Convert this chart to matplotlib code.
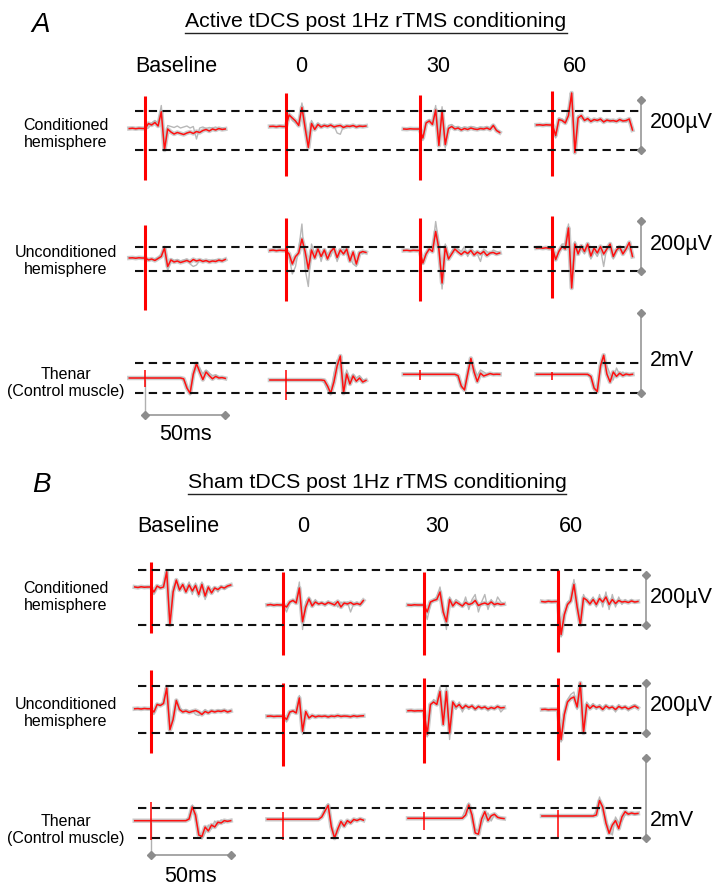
import numpy as np
import matplotlib.pyplot as plt
from matplotlib.lines import Line2D

plt.rcParams['font.family'] = ['Liberation Sans', 'DejaVu Sans']

W, H = 713, 888
PX_PER_MS = 1.6

# sample times of every sweep (ms from the TMS pulse)
t_ms = np.arange(-10, 51, 2)

col_labels = ['Baseline', '0', '30', '60']
row_labels = ['Conditioned\nhemisphere', 'Unconditioned\nhemisphere', 'Thenar\n(Control muscle)']
titles = ['Active tDCS post 1Hz rTMS conditioning', 'Sham tDCS post 1Hz rTMS conditioning']
bar_labels = ['200\u00b5V', '200\u00b5V', '2mV']

# ---- A: active tDCS (values in uV, relative to the middle of the dashed lines) ----
a_cond_red = [
    [8, 9, 7, 9, 8, 8, 28, 22, 32, 18, 75, -78, 6, -6, -14, -8, -12, -16, -10, -6, -12, -4, -8, 0, 4, -2, 6, 2, 8, 4, 6],
    [16, 17, 15, 17, 16, 16, 62, 50, 38, 20, 92, 10, -68, 28, 4, 24, 14, 20, 16, 22, 14, 18, 20, 12, 18, 16, 20, 14, 18, 16, 18],
    [6, 5, 7, 6, 6, 6, -30, 30, 38, 24, 82, -60, 78, -56, 8, 16, 6, 10, 2, 8, 4, 10, 6, 4, 8, 6, 10, 4, 20, 0, -8],
    [22, 23, 21, 23, 22, 22, -20, 44, 40, 30, 60, 150, -88, 50, 60, 40, 48, 36, 44, 40, 46, 34, 42, 38, 40, 36, 44, 38, 40, 46, 2],
]
a_cond_gray = [
    [6, 10, 8, 7, 9, 8, 10, 30, 40, 30, 100, -55, 20, 16, 12, 18, 10, 14, 18, 10, 16, -34, 10, 14, 8, 12, 10, 14, 6, 10, 8],
    [18, 15, 16, 18, 15, 16, 70, 40, 30, 30, 110, 40, -50, 40, 10, 30, 20, 24, 22, 16, 20, -10, -15, 18, 10, 20, 16, 18, 14, 20, 16],
    [8, 6, 5, 7, 5, 6, -40, 36, 44, 30, 100, -40, 95, -70, 20, 24, 14, 16, 10, 14, 12, 16, 14, 10, 14, 12, 16, 10, 24, 4, -4],
    [24, 22, 23, 21, 23, 22, -30, 50, 46, 36, 90, 140, -60, 60, 48, 46, 40, 44, 36, 46, 38, 40, 36, 44, 34, 40, 36, 42, 34, 40, 10],
]
a_cond_art = [(138, -198), (150, -182), (143, -197), (157, -182)]

a_uncond_red = [
    [4, 5, 3, 5, 4, 4, -4, 0, -6, 2, 10, 44, -30, -4, -12, -8, -14, -10, -6, -12, -2, -8, -4, -10, -6, -12, -8, -10, -4, -8, -2],
    [34, 36, 33, 35, 34, 34, 20, -20, 10, 24, 80, 30, -40, 36, 4, 40, 10, 36, 0, 30, 44, 6, 36, 20, 40, -8, 28, -20, 24, 30, 26],
    [34, 35, 33, 35, 34, 34, -16, 20, 40, 30, 110, 40, -96, 48, 0, 20, 40, 28, 18, 30, 22, 34, 16, 28, 20, 30, 14, 24, 26, 20, 24],
    [44, 45, 43, 45, 42, 44, -2, 30, 50, 40, 124, -116, 60, 20, 52, 30, 60, 12, 44, 24, 50, 20, 40, 60, 10, 36, 48, 20, 40, 66, 10],
]
a_uncond_gray = [
    [6, 3, 4, 6, 3, 4, 0, -4, 0, 6, 20, 50, -50, 0, -6, -2, -8, -4, 0, -20, -30, -24, -6, -4, -10, -4, -8, -2, -10, -4, 0],
    [36, 33, 35, 34, 36, 34, 10, -60, -30, 40, 140, -40, -110, 60, 20, 50, -10, 40, 20, 10, 50, -10, 30, 40, 20, 10, -20, -30, 30, 20, 30],
    [36, 34, 35, 33, 36, 34, -20, 24, 50, 40, 150, 60, -120, 60, 10, 30, 50, 40, 30, 50, 10, 40, 30, 20, -10, 40, 30, 20, 36, 30, 26],
    [46, 44, 42, 44, 46, 44, -6, 36, 60, 60, 140, -90, 70, 30, 40, 20, 50, 0, 30, 10, 40, -30, 50, 40, 0, 30, 40, 30, 50, 40, 20],
]
a_uncond_art = [(137, -203), (164, -169), (164, -169), (171, -156)]

a_then_red = [
    [0, 0, 0, 0, 0, 0, 0, 0, 0, 0, 0, 0, 0, 0, 0, 0, 0, -20, -250, -380, 100, 360, 150, -40, 150, 60, -20, 40, 0, 10, -10],
    [-50, -50, -50, -50, -50, -50, -50, -50, -50, -50, -50, -50, -50, -50, -50, -50, -50, -60, -200, -380, -100, 300, 550, -380, 100, -150, 50, -80, 0, -100, -60],
    [92, 92, 92, 92, 92, 92, 92, 92, 92, 92, 92, 92, 92, 92, 92, 92, 92, 60, -200, -300, 100, 490, 150, -90, 120, 50, 80, 110, 90, 95, 92],
    [92, 92, 92, 92, 92, 92, 92, 92, 92, 92, 92, 92, 92, 92, 92, 92, 92, 40, -250, -340, 300, 570, 100, -100, 150, 40, 120, 60, 100, 80, 92],
]
a_then_gray = [
    [0, 0, 0, 0, 0, 0, 0, 0, 0, 0, 0, 0, 0, 0, 0, 0, 0, -60, -200, -420, 40, 300, 250, 100, 200, 120, 60, 80, 30, 20, 0],
    [-50, -50, -50, -50, -50, -50, -50, -50, -50, -50, -50, -50, -50, -50, -50, -50, -60, -120, -300, -420, 100, 450, 300, -200, 200, -50, 100, 0, 60, -40, -50],
    [92, 92, 92, 92, 92, 92, 92, 92, 92, 92, 92, 92, 92, 92, 92, 92, 80, 0, -250, -260, 200, 420, 250, 60, 200, 150, 100, 120, 80, 90, 92],
    [92, 92, 92, 92, 92, 92, 92, 92, 92, 92, 92, 92, 92, 92, 92, 92, 70, 0, -300, -280, 200, 450, 300, 100, -50, 250, 80, 150, 60, 100, 92],
]
a_then_art = [(200, -217), (200, -550), (200, -50), (150, -50)]

# ---- B: sham tDCS ----
b_cond_red = [
    [40, 38, 41, 39, 40, 40, 20, 44, 36, 40, 101, -112, 20, 68, 28, 50, 20, 48, 24, 46, 10, 50, 4, 40, 16, 36, 30, 40, 36, 44, 48],
    [-32, -30, -33, -31, -32, -32, -40, -20, -14, -24, 36, -99, -40, -8, -36, -20, -28, -24, -30, -22, -26, -32, -18, -40, -24, -28, -22, -30, -26, -30, -14],
    [-32, -33, -31, -32, -32, -32, -60, -20, -14, -10, 20, -60, -99, -10, -36, -20, -28, -36, -22, -30, -26, -14, -34, -28, -24, -30, -20, -30, -26, -30, -28],
    [-18, -20, -17, -19, -18, -18, -150, -70, -30, -16, 50, -40, -112, -4, -12, -28, -10, -30, -6, -20, 0, -30, -10, -26, -14, -20, -18, -22, -16, -20, -18],
]
b_cond_gray = [
    [42, 40, 39, 41, 38, 40, 10, 40, 44, 50, 110, -90, 40, 60, 40, 44, 30, 60, 10, 56, 0, 60, -10, 30, 30, 40, 20, 46, 30, 40, 44],
    [-30, -32, -31, -33, -30, -32, -60, -24, -10, -20, 60, -130, -20, 0, -30, -10, -30, -20, -36, -16, -30, -20, -40, -20, -30, -20, -60, -26, -20, -36, -20],
    [-30, -32, -33, -30, -31, -32, -90, -30, -10, 0, 40, -40, -130, 0, -30, -10, -20, -40, 0, -50, -10, 10, -60, -20, 10, -50, -10, -40, 0, -20, -30],
    [-20, -18, -19, -17, -20, -18, -160, -80, -20, -10, 70, -20, -100, 10, -20, -20, 0, -40, 10, -40, 20, -50, 10, -40, 0, -30, -10, -20, -10, -24, -16],
]
b_cond_art = [(139, -145), (101, -232), (101, -232), (108, -219)]

b_uncond_red = [
    [3, 4, 2, 4, 3, 3, -10, 20, 16, 24, 86, -81, -40, 36, 0, -10, -6, -12, -8, -4, -10, -20, -8, -14, -6, -10, -6, -8, -4, -10, -6],
    [-27, -26, -28, -27, -27, -27, -40, -10, -6, -14, 46, -87, -8, -34, -24, -30, -26, -28, -26, -30, -26, -28, -24, -28, -26, -27, -29, -25, -28, -26, -25],
    [-5, -4, -6, -5, -5, -5, -100, 20, 30, 20, 72, -60, 72, -94, 30, 10, 20, 4, 16, 8, 14, 2, 12, 6, 10, 2, 8, 4, 12, 6, 8],
    [0, 1, -1, 0, 0, 0, -120, -20, 30, 44, 50, 10, 106, -94, 20, 4, 16, 8, 12, 0, 14, 6, 10, 0, 12, 6, 10, 2, 8, 14, 6],
]
b_uncond_gray = [
    [4, 2, 3, 5, 2, 3, -20, 24, 20, 30, 96, -70, -30, 40, 6, -4, 0, -6, -4, -20, -24, -14, 0, -10, -2, -6, -2, -4, 0, -8, -4],
    [-26, -28, -27, -26, -28, -27, -50, -14, -4, -10, 56, -100, -20, -30, -28, -24, -30, -26, -28, -24, -30, -26, -28, -24, -28, -26, -27, -29, -25, -27, -26],
    [-4, -6, -5, -4, -6, -5, -110, 10, 40, 30, 90, -40, 90, -120, 20, 0, 30, -10, 20, 0, 20, -4, 16, 0, 14, -6, 10, 0, 16, -10, 4],
    [2, 0, -1, 1, -2, 0, -130, -10, 40, 60, 70, 0, 80, -80, 30, 10, 24, 0, 20, 6, 20, 0, 16, -10, 20, 0, 16, -6, 14, 20, 10],
]
b_uncond_art = [(159, -174), (106, -227), (126, -214), (126, -201)]

b_then_red = [
    [58, 58, 58, 58, 58, 58, 58, 58, 58, 58, 58, 58, 58, 58, 58, 58, 58, 100, 400, 200, -300, -340, -100, -200, -50, -100, 20, 0, 60, 40, 58],
    [92, 92, 92, 92, 92, 92, 92, 92, 92, 92, 92, 92, 92, 92, 92, 92, 92, 150, 300, 440, -100, -380, -150, 40, -80, 60, 0, 90, 60, 100, 70],
    [117, 117, 117, 117, 117, 117, 117, 117, 117, 117, 117, 117, 117, 117, 117, 117, 117, 120, 200, 450, 200, -250, -280, 100, 283, 60, 180, 220, 140, 120, 110],
    [175, 175, 175, 175, 175, 175, 175, 175, 175, 175, 175, 175, 175, 175, 175, 175, 175, 200, 560, 400, 0, -258, -50, 60, -140, 150, 283, 220, 250, 230, 240],
]
b_then_gray = [
    [58, 58, 58, 58, 58, 58, 58, 58, 58, 58, 58, 58, 58, 58, 58, 58, 70, 150, 450, 100, -200, -400, -250, -50, -150, 50, -50, 80, 0, 60, 58],
    [92, 92, 92, 92, 92, 92, 92, 92, 92, 92, 92, 92, 92, 92, 92, 92, 100, 200, 380, 480, 0, -300, -250, -50, 20, -20, 60, 40, 100, 80, 90],
    [117, 117, 117, 117, 117, 117, 117, 117, 117, 117, 117, 117, 117, 117, 117, 117, 117, 150, 350, 500, 50, -150, -200, -50, 150, 250, 50, 200, 160, 130, 117],
    [175, 175, 175, 175, 175, 175, 175, 175, 175, 175, 175, 175, 175, 175, 175, 175, 175, 300, 650, 300, 100, -200, -300, 150, 0, 50, 200, 250, 220, 200, 220],
]
b_then_art = [(533, -425), (283, -425), (283, -175), (325, -383)]

# dashed reference levels (+/- uV) and scale bars (uV)
a_dash = [78, 48, 375]
b_dash = [110, 94, 375]
bar_sizes = [200, 200, 2000]
time_bar_ms = 50

# ---- layout (pixels of the 713x888 picture) ----
a_rows_y = [130.5, 259, 378]
b_rows_y = [597, 709.5, 823]
a_onsets = [90.8, 178.7, 262.3, 345.3]
b_onsets = [94.2, 177.1, 265.0, 348.7]
uv_per_px = [4, 4, 25]
art_width = [2.2, 2.2, 1.1]

fig = plt.figure(figsize=(W / 100, H / 100), dpi=100)


def fx(x):
    return x / W


def fy(y):
    return 1 - y / H


def draw_row(yc, scale, onsets, red, gray, art, dash, dash_px, bar_px, bar_size,
             bar_label, label_y, aw, half=90):
    ax = fig.add_axes([0, fy(yc + half), 1, 2 * half / H])
    ax.set_xlim(0, W / PX_PER_MS)
    ax.set_ylim(-half * scale, half * scale)
    ax.axis('off')
    for onset, r, g, (hi, lo) in zip(onsets, red, gray, art):
        x = onset + t_ms
        ax.plot(x, r, color='#cccccc', lw=3.2, zorder=1, solid_joinstyle='round')
        ax.plot(x, g, color='#b8b8b8', lw=1.0, zorder=2)
        ax.plot(x, r, color='#ff1010', lw=1.1, zorder=3)
        ax.vlines(onset, lo, hi, color='#ff0000', lw=aw, zorder=4)
    ax.hlines([-dash, dash], dash_px[0] / PX_PER_MS, dash_px[1] / PX_PER_MS,
              colors='#111111', linestyles=(0, (4, 2.6)), lw=1.5, zorder=5)
    bx = bar_px / PX_PER_MS
    ax.plot([bx, bx], [-dash, -dash + bar_size], color='#a6a6a6', lw=1.4,
            marker='D', ms=4, mfc='#8c8c8c', mec='#8c8c8c', zorder=5)
    ax.text(650 / PX_PER_MS, label_y, bar_label, fontsize=15.5, va='center', ha='left')
    return ax


def draw_block(rows_y, onsets, reds, grays, arts, dashes, dash_px, bar_px, label_ys,
               bar_y, txt_y):
    axes = []
    for i in range(3):
        axes.append(draw_row(rows_y[i], uv_per_px[i], onsets, reds[i], grays[i], arts[i],
                             dashes[i], dash_px, bar_px, bar_sizes[i], bar_labels[i],
                             label_ys[i], art_width[i]))
    # 50 ms time bar under the thenar baseline sweep
    ax = axes[2]
    t0 = onsets[0]
    ax.plot([t0, t0], [0, bar_y], color='#b0b0b0', lw=1.0, zorder=0)
    ax.plot([t0, t0 + time_bar_ms], [bar_y, bar_y], color='#a6a6a6', lw=1.4,
            marker='D', ms=4, mfc='#8c8c8c', mec='#8c8c8c')
    ax.text(t0 + time_bar_ms / 2, txt_y, '%dms' % time_bar_ms, fontsize=15.5,
            ha='center', va='center')
    return axes


draw_block(a_rows_y, a_onsets, [a_cond_red, a_uncond_red, a_then_red],
           [a_cond_gray, a_uncond_gray, a_then_gray],
           [a_cond_art, a_uncond_art, a_then_art], a_dash, (135, 640), 641,
           [32, 60, 450], -925, -1400)
draw_block(b_rows_y, b_onsets, [b_cond_red, b_uncond_red, b_then_red],
           [b_cond_gray, b_uncond_gray, b_then_gray],
           [b_cond_art, b_uncond_art, b_then_art], b_dash, (138, 645), 646,
           [0, 14, 75], -800, -1325)

# text: panel letters, underlined titles, column and row labels
letters = [('A', 41, 31.5), ('B', 41, 492)]
for s, x, y in letters:
    fig.text(fx(x), fy(y), s, fontsize=20, style='italic', ha='center', va='baseline')

title_pos = [(376, 27.3), (377, 488)]
title_objs = []
for s, (x, y) in zip(titles, title_pos):
    title_objs.append(fig.text(fx(x), fy(y), s, fontsize=15.3, ha='center', va='baseline'))

head_y = [72, 532]
head_x = [[176.5, 301, 438, 575], [178, 303, 437, 571]]
for hy, hx in zip(head_y, head_x):
    for s, x in zip(col_labels, hx):
        fig.text(fx(x), fy(hy), s, fontsize=15.5, ha='center', va='baseline')

label_y = [[134, 261, 383], [597, 713, 830]]
for ys in label_y:
    for s, y in zip(row_labels, ys):
        fig.text(fx(66), fy(y), s, fontsize=11.5, ha='center', va='center',
                 multialignment='center', linespacing=1.15)

fig.canvas.draw()
r = fig.canvas.get_renderer()
for t in title_objs:
    bb = t.get_window_extent(r).transformed(fig.transFigure.inverted())
    yl = bb.y0 - 1.5 / H
    fig.add_artist(Line2D([bb.x0, bb.x1], [yl, yl], color='#222222', lw=1.0))

fig.savefig('out.png', dpi=100)
